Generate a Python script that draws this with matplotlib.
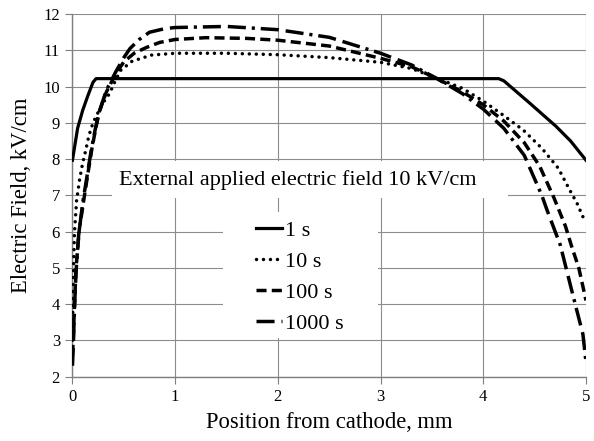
import numpy as np
import matplotlib
matplotlib.use("Agg")
import matplotlib.pyplot as plt
from matplotlib.patches import Rectangle

plt.rcParams['font.family'] = ['Liberation Serif', 'DejaVu Serif']

# 1 s
x1 = [0, 0.05, 0.1, 0.15, 0.2, 0.23, 4.15, 4.2, 4.45, 4.71, 4.85, 5.0]
y1 = [7.97, 8.85, 9.35, 9.75, 10.12, 10.22, 10.22, 10.16, 9.55, 8.9, 8.5, 7.97]

# 10 s
x10 = [0, 0.005, 0.01, 0.02, 0.04, 0.07, 0.1, 0.13, 0.16, 0.2, 0.26, 0.32, 0.36, 0.42,
       0.47, 0.58, 0.77, 1.0, 1.5, 2.0, 2.5, 3.0, 3.3, 3.55, 3.8, 4.0, 4.19, 4.39,
       4.57, 4.73, 4.86, 4.91, 4.97, 5.0]
y10 = [3.0, 4.2, 5.0, 6.0, 6.85, 7.45, 7.9, 8.25, 8.65, 9.0, 9.35, 9.65, 9.8, 10.18,
       10.45, 10.7, 10.87, 10.92, 10.92, 10.88, 10.8, 10.67, 10.5, 10.23, 9.95, 9.6,
       9.22, 8.8, 8.3, 7.75, 7.05, 6.8, 6.41, 6.27]

# 100 s
x100 = [0, 0.01, 0.02, 0.035, 0.066, 0.11, 0.15, 0.19, 0.23, 0.26, 0.33, 0.42, 0.5,
        0.6, 0.72, 0.85, 1.0, 1.3, 1.7, 2.0, 2.5, 3.0, 3.3, 3.55, 3.8, 4.0, 4.2,
        4.4, 4.55, 4.69, 4.8, 4.865, 4.93, 5.0]
y100 = [2.6, 3.2, 4.0, 5.0, 6.05, 6.87, 7.6, 8.3, 8.9, 9.3, 9.85, 10.35, 10.68,
        10.92, 11.08, 11.22, 11.3, 11.35, 11.33, 11.28, 11.12, 10.78, 10.55, 10.22,
        9.85, 9.5, 9.05, 8.45, 7.8, 6.92, 6.15, 5.55, 5.0, 4.1]

# 1000 s
x1000 = [0, 0.01, 0.02, 0.035, 0.06, 0.1, 0.14, 0.18, 0.22, 0.26, 0.33, 0.42, 0.5,
         0.56, 0.65, 0.75, 0.9, 1.0, 1.5, 2.0, 2.5, 3.0, 3.3, 3.55, 3.8, 4.0, 4.2,
         4.4, 4.57, 4.62, 4.75, 4.86, 4.97, 5.0]
y1000 = [2.3, 3.0, 3.9, 4.9, 5.9, 6.8, 7.5, 8.2, 8.8, 9.3, 9.9, 10.4, 10.8,
         11.05, 11.3, 11.5, 11.6, 11.63, 11.66, 11.57, 11.36, 10.92, 10.6, 10.22,
         9.8, 9.38, 8.85, 8.1, 7.0, 6.6, 5.63, 4.39, 3.17, 2.4]

labels = ['1 s', '10 s', '100 s', '1000 s']
note = 'External applied electric field 10 kV/cm'

fig = plt.figure(figsize=(5.94, 4.41), dpi=100)
ax = fig.add_axes([0.122, 0.146, 0.8645, 0.822])

lw = 2.5
ax.plot(x1, y1, color='black', lw=2.3, label=labels[0], zorder=4)
ax.plot(x10, y10, color='black', lw=lw, linestyle=(0, (0.01, 2.0)),
        dash_capstyle='round', label=labels[1], zorder=4)
ax.plot(x100, y100, color='black', lw=lw, linestyle=(0, (2.9, 1.5)),
        label=labels[2], zorder=4)
ax.plot(x1000, y1000, color='black', lw=lw,
        linestyle=(0, (5.2, 2.0, 5.2, 1.7, 0.9, 1.7)), label=labels[3], zorder=4)

ax.set_xlim(0, 5)
ax.set_ylim(2, 12)
ax.set_xticks(range(0, 6))
ax.set_yticks(range(2, 13))
ax.grid(True, color='#8c8c8c', lw=0.8)
ax.set_axisbelow(True)
for s in ['top', 'right']:
    ax.spines[s].set_visible(False)
for s in ['left', 'bottom']:
    ax.spines[s].set_color('#7f7f7f')
    ax.spines[s].set_linewidth(1.0)
ax.tick_params(direction='out', length=5, color='#7f7f7f', labelsize=12, pad=4)

ax.set_xlabel('Position from cathode, mm', fontsize=16.3, labelpad=5)
ax.set_ylabel('Electric Field, kV/cm', fontsize=16.3, labelpad=8)

# white boxes behind the annotation and the legend
ax.add_patch(Rectangle((0.077, 0.493), 0.771, 0.102, transform=ax.transAxes,
                       facecolor='white', edgecolor='none', zorder=2))
ax.add_patch(Rectangle((0.293, 0.107), 0.302, 0.347, transform=ax.transAxes,
                       facecolor='white', edgecolor='none', zorder=2))
ax.text(0.438, 0.542, note, transform=ax.transAxes, fontsize=16,
        ha='center', va='center', zorder=3)

leg = ax.legend(loc='upper left', bbox_to_anchor=(0.357, 0.432), frameon=False,
                fontsize=16, handlelength=1.2, handletextpad=0.1,
                labelspacing=0.47, borderpad=0, borderaxespad=0)

fig.savefig('out.png', dpi=100)
